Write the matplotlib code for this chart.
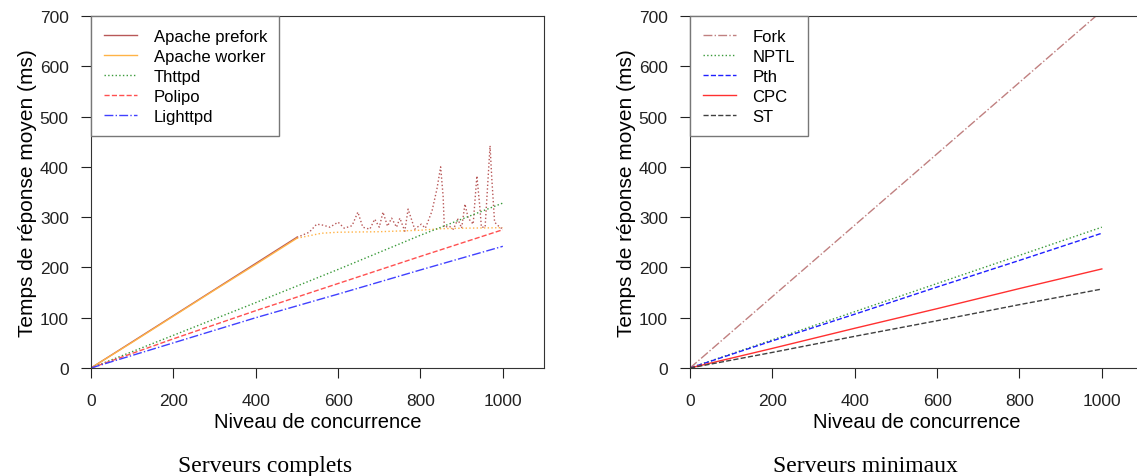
import matplotlib
matplotlib.use('Agg')
import matplotlib.pyplot as plt

# Données
x_pts = [0, 200, 400, 600, 800, 1000]

# Serveurs complets
apache_x_lin = [0, 100, 200, 300, 400, 500]
apache_prefork_lin = [0, 52, 104, 156, 208, 260]
apache_worker_lin = [0, 51, 103, 155, 206, 258]

prefork_bruit_x = [500, 507, 530, 548, 564, 580, 600, 615, 634, 648, 660, 677, 689, 700,
                   709, 720, 730, 742, 750, 762, 770, 786, 802, 812, 828, 840, 849, 855,
                   858, 870, 880, 891, 900, 908, 916, 928, 937, 944, 948, 957, 969, 973,
                   980, 990, 1000]
prefork_bruit_y = [260, 262, 270, 286, 284, 280, 290, 278, 283, 310, 280, 276, 296, 280,
                   310, 282, 298, 280, 298, 272, 316, 276, 286, 278, 312, 356, 400, 342,
                   280, 282, 276, 296, 278, 326, 298, 286, 382, 322, 280, 280, 442, 380,
                   290, 282, 276]

worker_bruit_x = [500, 560, 600, 700, 800, 850, 900, 1000]
worker_bruit_y = [258, 268, 270, 271, 274, 277, 278, 279]

thttpd = [0, 65, 130, 196, 264, 328]
polipo = [0, 58, 114, 168, 222, 275]
lighttpd = [0, 50, 100, 147, 195, 242]

# Serveurs minimaux
fork = [0, 142, 284, 426, 568, 710]
nptl = [0, 56, 112, 168, 224, 280]
pth = [0, 54, 107, 161, 214, 268]
cpc = [0, 39, 79, 118, 158, 197]
st = [0, 31, 63, 94, 126, 157]

plt.rcParams['font.family'] = ['Liberation Sans', 'DejaVu Sans']

fig = plt.figure(figsize=(11.37, 4.77), dpi=100)
ax1 = fig.add_axes([91/1137, 1 - 369/477, 453/1137, 352/477])
ax2 = fig.add_axes([690/1137, 1 - 369/477, 453/1137, 352/477])

# --- panneau gauche ---
ax1.plot(apache_x_lin, apache_prefork_lin, color='#b85858', lw=1.0, label='Apache prefork')
ax1.plot(apache_x_lin, apache_worker_lin, color='#ffb347', lw=1.0, label='Apache worker')
ax1.plot(prefork_bruit_x, prefork_bruit_y, color='#b85858', lw=1.0, ls=':')
ax1.plot(worker_bruit_x, worker_bruit_y, color='#ffb347', lw=1.0, ls=':')
ax1.plot(x_pts, thttpd, color='#3a9a3a', lw=1.0, ls=':', label='Thttpd')
ax1.plot(x_pts, polipo, color='#ff5050', lw=1.0, ls='--', label='Polipo')
ax1.plot(x_pts, lighttpd, color='#4040ff', lw=1.0, ls='-.', label='Lighttpd')

# --- panneau droit ---
ax2.plot(x_pts, fork, color='#c08080', lw=1.0, ls='-.', label='Fork')
ax2.plot(x_pts, nptl, color='#3a9a3a', lw=1.0, ls=':', label='NPTL')
ax2.plot(x_pts, pth, color='#2020ff', lw=1.0, ls='--', label='Pth')
ax2.plot(x_pts, cpc, color='#ff3030', lw=1.0, label='CPC')
ax2.plot(x_pts, st, color='#404040', lw=1.0, ls='--', label='ST')
ax2.spines['right'].set_visible(False)

for ax in (ax1, ax2):
    ax.set_xlim(0, 1100)
    ax.set_ylim(0, 700)
    ax.set_xticks([0, 200, 400, 600, 800, 1000])
    ax.set_yticks([0, 100, 200, 300, 400, 500, 600, 700])
    ax.tick_params(direction='out', length=7, width=0.8, labelsize=12.5,
                   colors='#222222')
    ax.tick_params(axis='x', pad=11)
    ax.tick_params(axis='y', pad=9)
    for s in ax.spines.values():
        s.set_linewidth(0.8)
        s.set_color('#333333')
    ax.set_xlabel('Niveau de concurrence', fontsize=14.5, labelpad=3)
    ax.set_ylabel('Temps de réponse moyen (ms)', fontsize=15, labelpad=2)
    leg = ax.legend(loc='upper left', borderaxespad=0, fancybox=False,
                    fontsize=12, handlelength=2.0, labelspacing=0.3,
                    borderpad=0.75, handletextpad=1.0, framealpha=1)
    leg.get_frame().set_edgecolor('#777777')
    leg.get_frame().set_linewidth(1.0)

fig.text(265/1137, 1 - 467/477, 'Serveurs complets', ha='center', va='center',
         fontsize=17, family='Liberation Serif')
fig.text(865/1137, 1 - 467/477, 'Serveurs minimaux', ha='center', va='center',
         fontsize=17, family='Liberation Serif')

fig.savefig('out.png', dpi=100)
